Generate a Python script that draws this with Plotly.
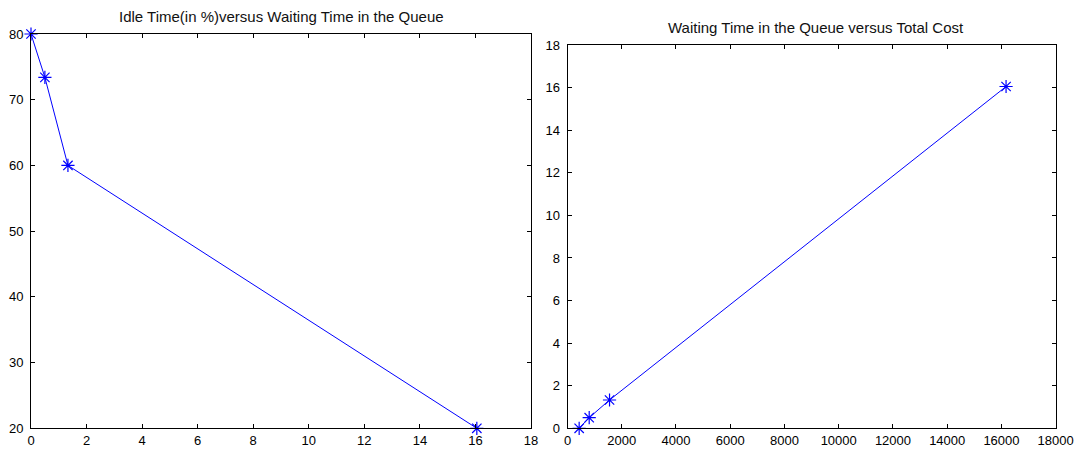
import plotly.graph_objects as go

W, H = 1076, 449

waiting_time = [0.0, 0.5, 1.33, 16.05]
idle_time = [80, 73.4, 60, 20]
total_cost = [430, 800, 1550, 16170]

left_title = "Idle Time(in %)versus Waiting Time in the Queue"
right_title = "Waiting Time in the Queue versus Total Cost"

blue = "#0000FF"
font = dict(family="Liberation Sans, Arial, sans-serif", size=13, color="#000000")
title_font = dict(family="Liberation Sans, Arial, sans-serif", size=15, color="#111111")

fig = go.Figure()
fig.add_trace(go.Scatter(
    x=waiting_time, y=idle_time, mode="lines+markers",
    line=dict(color=blue, width=1),
    marker=dict(symbol="asterisk-open", size=11, line=dict(color=blue, width=1.2)),
    cliponaxis=False, xaxis="x", yaxis="y", showlegend=False))
fig.add_trace(go.Scatter(
    x=total_cost, y=waiting_time, mode="lines+markers",
    line=dict(color=blue, width=1),
    marker=dict(symbol="asterisk-open", size=11, line=dict(color=blue, width=1.2)),
    cliponaxis=False, xaxis="x2", yaxis="y2", showlegend=False))

ax = dict(showline=True, linecolor="black", linewidth=1, mirror="allticks",
          ticks="inside", ticklen=4, tickcolor="black", showgrid=False,
          zeroline=False, tickfont=font, automargin=False)
xax = dict(ax, ticklabelstandoff=0)
yax = dict(ax, ticklabelstandoff=4)

lx0, lx1, ly0, ly1 = 31, 531, 34, 428.3
rx0, rx1, ry0, ry1 = 567.5, 1055.7, 45, 428.3

fig.update_layout(
    template="none",
    width=W, height=H, margin=dict(l=0, r=0, t=0, b=0, autoexpand=False),
    paper_bgcolor="white", plot_bgcolor="white", font=font,
    xaxis=dict(xax, domain=[lx0 / W, lx1 / W], range=[0, 18], dtick=2, anchor="y"),
    yaxis=dict(yax, domain=[(H - ly1) / H, (H - ly0) / H], range=[20, 80], dtick=10, anchor="x"),
    xaxis2=dict(xax, domain=[rx0 / W, rx1 / W], range=[0, 18000], dtick=2000, anchor="y2",
                tickformat="d", exponentformat="none"),
    yaxis2=dict(yax, domain=[(H - ry1) / H, (H - ry0) / H], range=[0, 18], dtick=2, anchor="x2"),
    annotations=[
        dict(text=left_title, x=(lx0 + lx1) / 2 / W, y=1 - 17 / H, xref="paper", yref="paper",
             showarrow=False, xanchor="center", yanchor="middle", font=title_font),
        dict(text=right_title, x=(rx0 + rx1) / 2 / W + 4 / W, y=1 - 27 / H, xref="paper", yref="paper",
             showarrow=False, xanchor="center", yanchor="middle", font=title_font),
    ],
)

fig.write_html("out.html")
